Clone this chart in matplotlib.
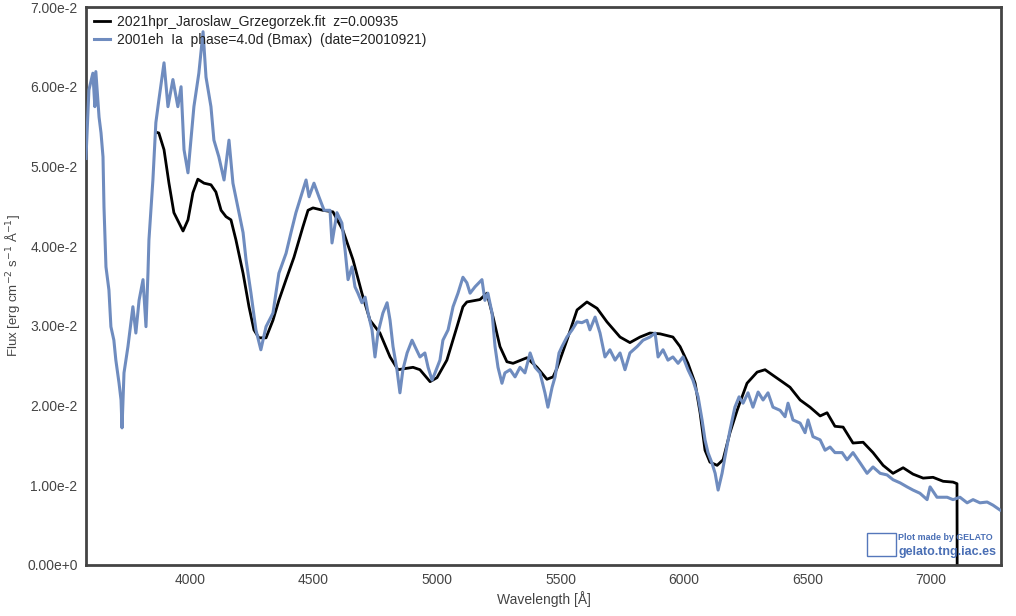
import numpy as np
import matplotlib
matplotlib.use("Agg")
import matplotlib.pyplot as plt
from matplotlib.patches import Rectangle

plt.rcParams['font.family'] = ['Liberation Sans', 'DejaVu Sans']

# Fitted template (black), wavelength in Angstrom, flux in 1e-3 units
fit_wl = [3862, 3874, 3895, 3915, 3935, 3972, 3992, 4012, 4032, 4057, 4085, 4105,
          4126, 4146, 4166, 4186, 4215, 4239, 4259, 4279, 4308, 4336, 4360, 4389,
          4421, 4457, 4478, 4498, 4538, 4579, 4619, 4660, 4696, 4729, 4769, 4810,
          4842, 4903, 4931, 4972, 5000, 5040, 5081, 5105, 5121, 5174, 5202, 5227,
          5255, 5283, 5308, 5364, 5405, 5445, 5470, 5486, 5526, 5567, 5607, 5648,
          5688, 5741, 5781, 5822, 5862, 5903, 5955, 5984, 6016, 6045, 6065, 6085,
          6105, 6134, 6158, 6186, 6215, 6255, 6296, 6328, 6360, 6397, 6429, 6470,
          6510, 6551, 6579, 6611, 6644, 6684, 6725, 6765, 6806, 6846, 6887, 6927,
          6968, 7008, 7049, 7089, 7105, 7106]
fit_flux = [54.3, 54.2, 52.1, 47.9, 44.2, 41.9, 43.3, 46.7, 48.4, 47.9, 47.7, 46.8,
            44.5, 43.7, 43.3, 40.8, 36.6, 32.4, 29.5, 28.5, 28.5, 30.7, 33.2, 35.8,
            38.6, 42.4, 44.5, 44.8, 44.5, 44.3, 42.0, 38.3, 34.1, 30.7, 29.1, 26.1,
            24.5, 24.8, 24.5, 23.0, 23.5, 25.7, 29.9, 32.4, 33.0, 33.3, 34.1, 31.1,
            27.4, 25.5, 25.3, 26.0, 24.8, 23.3, 23.6, 24.7, 28.2, 32.0, 33.0, 32.2,
            30.5, 28.6, 27.9, 28.6, 29.1, 29.0, 28.6, 27.4, 25.3, 22.8, 19.1, 14.4,
            12.9, 12.5, 13.2, 16.6, 19.4, 22.8, 24.2, 24.5, 23.8, 23.0, 22.3, 20.7,
            19.8, 18.7, 19.1, 17.4, 17.3, 15.3, 15.4, 14.1, 12.5, 11.5, 12.2, 11.4,
            10.9, 11.0, 10.5, 10.4, 10.2, -5.0]

# Observed spectrum of 2001eh (blue)
obs_wl = [3579, 3591, 3607, 3615, 3619, 3632, 3640, 3648, 3652, 3660, 3672, 3680,
          3692, 3700, 3713, 3721, 3725, 3733, 3749, 3769, 3781, 3794, 3810, 3822,
          3830, 3834, 3850, 3862, 3874, 3895, 3911, 3931, 3951, 3964, 3976, 3992,
          4004, 4016, 4036, 4053, 4065, 4085, 4097, 4117, 4138, 4158, 4174, 4194,
          4215, 4227, 4247, 4267, 4287, 4308, 4336, 4360, 4389, 4409, 4429, 4449,
          4470, 4482, 4502, 4522, 4543, 4567, 4575, 4595, 4615, 4628, 4640, 4656,
          4668, 4680, 4696, 4709, 4721, 4737, 4749, 4761, 4781, 4798, 4810, 4822,
          4838, 4850, 4862, 4879, 4899, 4911, 4931, 4951, 4964, 4980, 4992, 5012,
          5024, 5045, 5065, 5085, 5105, 5121, 5134, 5154, 5182, 5194, 5206, 5223,
          5235, 5247, 5263, 5275, 5296, 5316, 5336, 5356, 5377, 5397, 5417, 5437,
          5449, 5466, 5478, 5494, 5506, 5526, 5547, 5567, 5587, 5607, 5619, 5640,
          5660, 5680, 5700, 5721, 5741, 5761, 5781, 5810, 5834, 5862, 5883, 5895,
          5915, 5935, 5955, 5976, 5996, 6016, 6036, 6057, 6073, 6085, 6097, 6113,
          6126, 6138, 6154, 6166, 6186, 6206, 6223, 6239, 6259, 6279, 6300, 6320,
          6340, 6360, 6389, 6409, 6421, 6441, 6470, 6490, 6502, 6522, 6551, 6571,
          6591, 6611, 6640, 6660, 6684, 6713, 6741, 6765, 6794, 6822, 6846, 6875,
          6903, 6927, 6955, 6984, 6996, 7024, 7065, 7089, 7117, 7146, 7170, 7198,
          7227, 7251, 7279]
obs_flux = [51.0, 59.6, 61.7, 57.5, 61.9, 56.2, 54.2, 51.2, 44.9, 37.4, 34.5, 29.9,
            28.2, 25.7, 22.8, 20.7, 17.2, 24.1, 27.4, 32.4, 29.1, 33.2, 35.8, 29.9,
            36.6, 40.8, 48.3, 55.5, 58.3, 63.0, 57.5, 60.9, 57.5, 60.0, 52.1, 49.2,
            53.3, 57.5, 61.7, 66.9, 61.2, 57.5, 53.3, 51.2, 48.3, 53.3, 47.9, 44.9,
            41.7, 38.3, 34.1, 29.5, 27.0, 29.9, 31.6, 36.6, 39.1, 41.7, 44.2, 46.2,
            48.3, 46.2, 47.9, 46.2, 44.5, 44.5, 40.4, 44.2, 42.9, 39.5, 35.8, 37.4,
            34.9, 34.1, 32.9, 33.6, 31.6, 29.5, 26.1, 29.1, 31.6, 32.9, 30.7, 27.4,
            24.5, 21.6, 24.5, 26.6, 28.2, 27.4, 26.1, 26.6, 24.8, 23.2, 24.1, 25.7,
            28.2, 29.5, 32.4, 34.1, 36.1, 35.4, 34.1, 34.9, 35.8, 33.2, 34.1, 31.6,
            27.4, 24.8, 22.8, 24.1, 24.5, 23.6, 24.8, 24.1, 26.6, 24.8, 24.1, 21.6,
            19.8, 22.3, 23.6, 26.6, 27.4, 28.6, 29.5, 30.5, 30.4, 30.7, 29.5, 31.1,
            29.1, 26.1, 27.0, 25.7, 26.6, 24.5, 26.6, 27.4, 28.2, 28.6, 29.1, 26.1,
            27.0, 25.7, 26.1, 25.3, 26.1, 24.5, 23.2, 21.1, 18.2, 15.7, 14.1, 12.8,
            11.5, 9.4, 11.5, 13.6, 16.9, 19.8, 21.1, 20.3, 21.6, 19.8, 21.7, 20.7,
            21.6, 19.8, 19.4, 18.6, 20.3, 18.2, 17.8, 16.6, 18.2, 16.1, 15.7, 14.4,
            14.8, 14.1, 14.1, 13.2, 14.1, 12.8, 11.5, 12.3, 11.5, 11.3, 10.7, 10.3,
            9.8, 9.4, 9.0, 8.2, 9.8, 8.5, 8.5, 8.2, 8.5, 7.8, 8.2, 7.8,
            7.9, 7.5, 6.9]

yticks = [0.0, 0.01, 0.02, 0.03, 0.04, 0.05, 0.06, 0.07]
ytick_labels = ["0.00e+0", "1.00e-2", "2.00e-2", "3.00e-2", "4.00e-2",
                "5.00e-2", "6.00e-2", "7.00e-2"]
xticks = [4000, 4500, 5000, 5500, 6000, 6500, 7000]

fit_label = "2021hpr_Jaroslaw_Grzegorzek.fit  z=0.00935"
obs_label = "2001eh  Ia  phase=4.0d (Bmax)  (date=20010921)"

blue = "#6f8cbf"
gray = "#444444"

fig = plt.figure(figsize=(10.16, 6.16), dpi=100)
ax = fig.add_axes([0.0846, 0.0828, 0.9006, 0.9058])

ax.plot(fit_wl, np.array(fit_flux) * 1e-3, color="black", lw=2, label=fit_label, zorder=2)
ax.plot(obs_wl, np.array(obs_flux) * 1e-3, color=blue, lw=2.2, label=obs_label, zorder=3)

ax.set_xlim(3579, 7283)
ax.set_ylim(0, 0.07)
ax.set_xticks(xticks)
ax.set_xticklabels([str(t) for t in xticks])
ax.set_yticks(yticks)
ax.set_yticklabels(ytick_labels)
ax.tick_params(length=0, labelsize=10, colors=gray, pad=6)
for s in ax.spines.values():
    s.set_color(gray)
    s.set_linewidth(2)

ax.set_xlabel("Wavelength [Å]", fontsize=10, color=gray, labelpad=3)
ax.set_ylabel("Flux [erg cm$^{-2}$ s$^{-1}$ Å$^{-1}$]", fontsize=9.5, color=gray, labelpad=4)

leg = ax.legend(loc="upper left", frameon=False, fontsize=10, handlelength=1.2,
                handletextpad=0.5, labelspacing=0.3, borderaxespad=0.15)
for t in leg.get_texts():
    t.set_color("#222222")

# GELATO watermark
ax.add_patch(Rectangle((0.854, 0.017), 0.031, 0.04, transform=ax.transAxes,
                       facecolor="white", edgecolor="#5577bb", lw=1, zorder=5))
ax.text(0.888, 0.049, "Plot made by GELATO", transform=ax.transAxes, fontsize=6.4,
        color="#4a6fb5", fontweight="bold", va="center", ha="left", zorder=5)
ax.text(0.888, 0.024, "gelato.tng.iac.es", transform=ax.transAxes, fontsize=9,
        color="#4a6fb5", fontweight="bold", va="center", ha="left", zorder=5)

fig.savefig("out.png", dpi=100)
